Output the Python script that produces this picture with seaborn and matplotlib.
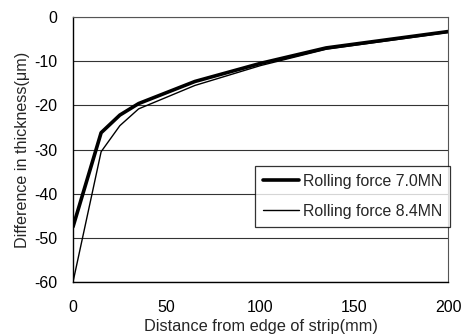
import matplotlib
matplotlib.use("Agg")
import matplotlib.pyplot as plt
import seaborn as sns
import pandas as pd
from matplotlib.lines import Line2D

distance = [0, 15, 25, 35, 65, 100, 135, 200]
force_7_0 = [-47.5, -26.2, -22.2, -19.6, -14.6, -10.5, -7.0, -3.3]
force_8_4 = [-60.0, -30.5, -24.6, -20.8, -15.5, -11.0, -7.3, -3.5]
series_names = ["Rolling force 7.0MN", "Rolling force 8.4MN"]
y_ticks = [0, -10, -20, -30, -40, -50, -60]
x_ticks = [0, 50, 100, 150, 200]

sns.set_style("white")
plt.rcParams['font.family'] = ['Liberation Sans', 'DejaVu Sans']
plt.rcParams['axes.unicode_minus'] = False

df = pd.concat([
    pd.DataFrame({"x": distance, "y": force_7_0, "s": series_names[0]}),
    pd.DataFrame({"x": distance, "y": force_8_4, "s": series_names[1]}),
])

fig = plt.figure(figsize=(4.68, 3.36), dpi=100)
ax = fig.add_axes([73 / 468, 54 / 336, 375 / 468, 265 / 336])

sns.lineplot(data=df, x="x", y="y", hue="s", size="s",
             sizes={series_names[0]: 2.6, series_names[1]: 1.0},
             palette={series_names[0]: "black", series_names[1]: "black"},
             ax=ax, legend=False)

ax.set_xlim(0, 200)
ax.set_ylim(-60, 0)
ax.set_yticks(y_ticks)
ax.set_xticks(x_ticks)
ax.yaxis.grid(True, color="#333333", linewidth=0.8)
ax.set_axisbelow(True)
for side in ["left", "bottom"]:
    ax.spines[side].set_color("black")
    ax.spines[side].set_linewidth(1.0)
for side in ["top", "right"]:
    ax.spines[side].set_color("#555555")
    ax.spines[side].set_linewidth(0.8)
ax.tick_params(axis="x", direction="in", length=3, labelsize=11.5, pad=13, colors="black")
ax.tick_params(axis="y", direction="in", length=0, labelsize=11.5, pad=11, colors="black")
ax.set_xlabel("Distance from edge of strip(mm)", fontsize=11.8, labelpad=3)
ax.set_ylabel("Difference in thickness(\u03bcm)", fontsize=11.6, labelpad=3)

handles = [Line2D([], [], color="black", lw=2.6), Line2D([], [], color="black", lw=1.0)]
leg = ax.legend(handles, series_names, loc="upper left",
                bbox_to_anchor=(255 / 468, (336 - 166) / 336),
                bbox_transform=fig.transFigure,
                fontsize=11.4, frameon=True, fancybox=False, shadow=False,
                edgecolor="black", handlelength=2.3, borderpad=0.5,
                labelspacing=0.95, handletextpad=0.25, borderaxespad=0)
leg.get_frame().set_linewidth(0.9)

fig.savefig("out.png", dpi=100)
